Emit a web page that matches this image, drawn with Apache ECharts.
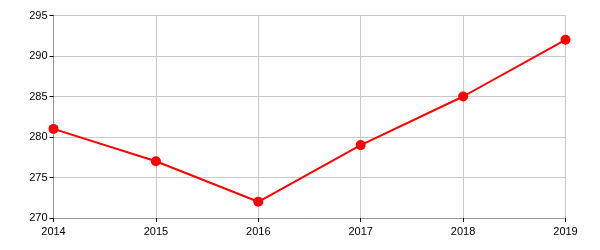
<!DOCTYPE html>
<html><head><meta charset="utf-8">
<script src="https://cdn.jsdelivr.net/npm/echarts@6/dist/echarts.min.js"></script>
<style>html,body{margin:0;padding:0;background:#fff}#c{width:600px;height:250px}</style>
</head><body><div id="c"></div>
<script>
var years = ['2014','2015','2016','2017','2018','2019'];
var values = [281, 277, 272, 279, 285, 292];
var chart = echarts.init(document.getElementById('c'), null, {renderer:'canvas'});
chart.setOption({
  animation:false,
  grid:{left:53.5, right:34.5, top:15.5, bottom:32, containLabel:false},
  xAxis:{type:'category', data:years, boundaryGap:false,
    axisLine:{lineStyle:{color:'#999', width:1}},
    axisTick:{show:true, length:4, lineStyle:{color:'#000'}},
    axisLabel:{color:'#000', fontFamily:'Liberation Sans, Arial', fontSize:11, margin:8},
    splitLine:{show:true, lineStyle:{color:'#c8c8c8', width:1}}},
  yAxis:{type:'value', min:270, max:295, interval:5,
    axisLine:{show:true, lineStyle:{color:'#999', width:1}},
    axisTick:{show:true, length:4, lineStyle:{color:'#000'}},
    axisLabel:{color:'#000', fontFamily:'Liberation Sans, Arial', fontSize:11, margin:6},
    splitLine:{show:true, lineStyle:{color:'#c8c8c8', width:1}}},
  series:[{type:'line', data:values, symbol:'circle', symbolSize:10,
    lineStyle:{color:'#ff0000', width:2}, itemStyle:{color:'#ff0000'}}]
});
</script></body></html>
